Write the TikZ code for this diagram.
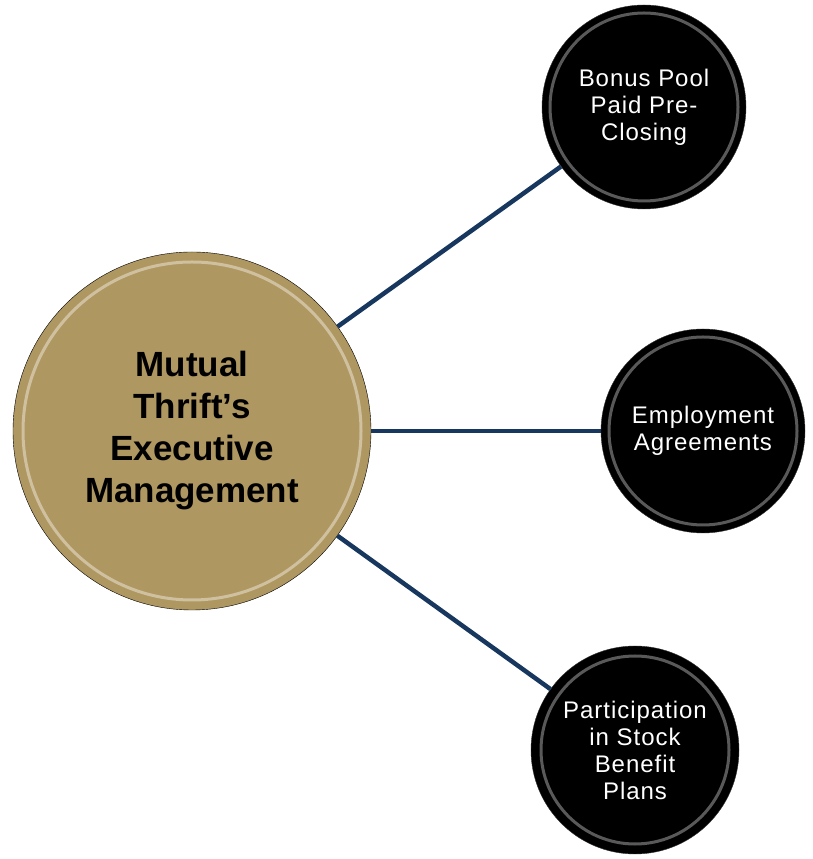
\documentclass[tikz,border=0pt]{standalone}
\usepackage{fontspec}
\setmainfont{Liberation Sans}
\usetikzlibrary{positioning}
\definecolor{tangold}{RGB}{175,151,98}
\definecolor{linkblue}{RGB}{23,55,94}
\tikzset{
  hub/.style={circle, draw=black, thin, fill=tangold, minimum size=358pt, align=center,
    font=\bfseries\fontsize{35}{42}\selectfont, text=black},
  leaf/.style={circle, draw=black!80, thin, fill=black, minimum size=#1, align=center,
    font=\fontsize{24}{27}\selectfont\addfontfeatures{LetterSpace=4}, text=white},
  gloss/.style={white, line width=3pt, opacity=.4},
  link/.style={linkblue, line width=4.5pt}
}
\begin{document}
\begin{tikzpicture}[x=1pt, y=1pt]
    \useasboundingbox (0,0) rectangle (812,859);
    % zentraler Kreis
    \node[hub] (mgmt) at (192,428) {Mutual\\Thrift’s\\Executive\\Management};
    \draw[gloss] (mgmt.center) circle[radius=169pt];
    % drei Teilbereiche
    \node[leaf=204pt] (bonus) at (644,752) {Bonus Pool\\Paid Pre-\\Closing};
    \node[leaf=204pt] (employ) at (703,428) {Employment\\Agreements};
    \node[leaf=208pt] (stock) at (635,109) {Participation\\in Stock\\Benefit\\Plans};
    \foreach \n in {bonus, employ, stock} {
        \draw[gloss, opacity=.35] (\n.center) circle[radius=94pt];
    }
    % Verbindungen
    \draw[link] (mgmt) -- (bonus);
    \draw[link] (mgmt) -- (employ);
    \draw[link] (mgmt) -- (stock);
\end{tikzpicture}
\end{document}
